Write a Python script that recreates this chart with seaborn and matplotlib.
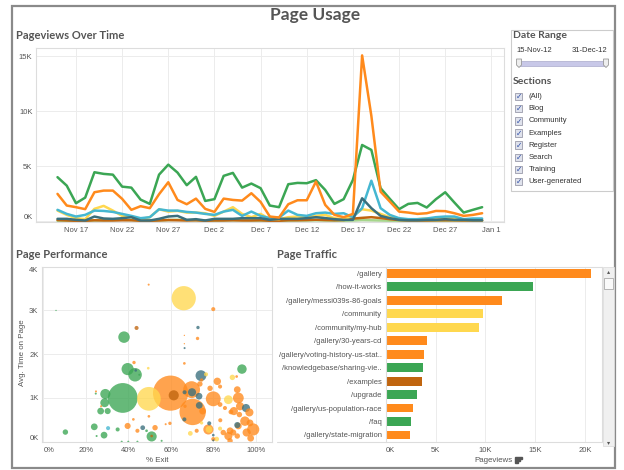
import numpy as np
import pandas as pd
import seaborn as sns
import matplotlib.pyplot as plt
from matplotlib.patches import Rectangle, Polygon
from matplotlib.lines import Line2D
from matplotlib.ticker import FuncFormatter

sns.set_theme(style="white")
plt.rcParams['font.family'] = ['Liberation Sans', 'DejaVu Sans']

W, H = 624, 470

# ---- colours per section
section_colors = {
    "Training": "#3ba654",
    "User-generated": "#ff8a1c",
    "Community": "#ffd84f",
    "Blog": "#45b7d1",
    "Search": "#3a6f7c",
    "Examples": "#c0650f",
    "Register": "#a6d68c",
}
section_names = ["(All)", "Blog", "Community", "Examples", "Register",
                 "Search", "Training", "User-generated"]

# ---- pageviews over time (thousands), Nov 15 .. Dec 31 2012
dates = pd.date_range("2012-11-15", "2012-12-31", freq="D")
views_training = [4.02, 3.25, 1.65, 2.16, 4.47, 4.32, 4.25, 3.16, 3.07, 1.98,
                  1.59, 4.25, 5.16, 4.44, 3.29, 4.05, 1.86, 2.02, 4.14, 4.41,
                  3.07, 3.44, 3.02, 1.44, 1.29, 3.38, 3.50, 3.47, 3.75, 2.86,
                  1.59, 2.02, 3.77, 6.95, 6.50, 3.02, 2.05, 1.11, 1.59, 1.68,
                  1.26, 2.02, 2.65, 1.71, 0.80, 1.05, 1.29]
views_usergen = [2.50, 1.44, 1.29, 1.11, 2.65, 2.80, 2.80, 2.05, 1.05, 1.38,
                 1.20, 2.47, 3.56, 1.95, 1.56, 2.07, 1.14, 0.86, 2.07, 1.95,
                 1.89, 2.56, 1.77, 0.44, 0.35, 1.56, 1.92, 1.92, 3.62, 1.50,
                 0.59, 0.38, 0.68, 15.10, 9.60, 2.70, 1.80, 0.89, 0.80, 0.68,
                 0.74, 0.95, 0.93, 0.74, 0.50, 0.59, 0.74]
views_blog = [1.05, 0.68, 0.44, 0.59, 0.98, 0.95, 0.86, 0.68, 0.50, 0.29,
              0.38, 1.10, 0.98, 0.98, 0.86, 0.80, 0.68, 0.59, 0.89, 1.05,
              0.50, 0.89, 0.50, 0.29, 0.35, 0.98, 0.59, 0.50, 0.74, 0.80,
              0.68, 0.74, 0.38, 1.20, 3.70, 1.20, 0.59, 0.29, 0.20, 0.20,
              0.26, 0.38, 0.44, 0.44, 0.20, 0.26, 0.26]
views_community = [0.98, 0.59, 0.29, 0.20, 1.14, 1.41, 0.98, 0.50, 0.38, 0.20,
                   0.38, 1.10, 0.89, 0.95, 0.80, 0.80, 0.74, 0.50, 0.89, 1.29,
                   0.68, 0.38, 0.68, 0.20, 0.20, 0.38, 0.44, 0.38, 0.50, 0.59,
                   0.29, 0.20, 0.50, 1.10, 0.98, 0.68, 0.38, 0.20, 0.14, 0.20,
                   0.26, 0.26, 0.38, 0.26, 0.14, 0.14, 0.14]
views_search = [0.23, 0.23, 0.14, 0.08, 0.44, 0.26, 0.23, 0.29, 0.38, 0.08,
                0.08, 0.23, 0.44, 0.50, 0.14, 0.20, 0.08, 0.23, 0.23, 0.23,
                0.29, 0.29, 0.29, 0.14, 0.23, 0.23, 0.23, 0.29, 0.38, 0.30,
                0.20, 0.14, 0.14, 2.10, 1.20, 0.50, 0.29, 0.14, 0.10, 0.10,
                0.14, 0.14, 0.20, 0.14, 0.14, 0.10, 0.10]
views_examples = [0.12, 0.08, 0.05, 0.05, 0.10, 0.08, 0.08, 0.10, 0.10, 0.05,
                  0.05, 0.08, 0.12, 0.10, 0.08, 0.10, 0.05, 0.08, 0.08, 0.10,
                  0.08, 0.08, 0.10, 0.05, 0.05, 0.10, 0.10, 0.12, 0.15, 0.12,
                  0.10, 0.12, 0.25, 0.32, 0.38, 0.30, 0.20, 0.12, 0.08, 0.08,
                  0.08, 0.10, 0.10, 0.10, 0.08, 0.08, 0.08]
views_register = [0.05, 0.04, 0.04, 0.05, 0.08, 0.10, 0.12, 0.15, 0.12, 0.08,
                  0.06, 0.08, 0.12, 0.15, 0.12, 0.10, 0.06, 0.05, 0.08, 0.10,
                  0.10, 0.08, 0.06, 0.04, 0.04, 0.06, 0.08, 0.08, 0.10, 0.08,
                  0.06, 0.05, 0.08, 0.12, 0.10, 0.08, 0.06, 0.05, 0.04, 0.04,
                  0.05, 0.05, 0.06, 0.05, 0.04, 0.04, 0.04]
line_order = ["Register", "Examples", "Community", "Blog", "Search",
              "Training", "User-generated"]

# ---- page performance: % exit, avg time on page (K), pageviews, section
perf_exit = [5.9, 37.9, 39.6, 43.1, 37.3, 29.1, 28.8, 26.9, 30.2, 10.3,
             23.9, 28.5, 50.9, 93.4, 34.9, 24.6, 25.0, 36.8, 39.9, 44.2,
             48.5, 55.6, 45.1,
             66.0, 49.6, 87.0, 88.9, 69.1, 77.9, 81.5, 76.5, 49.3, 83.1, 74.4,
             30.4,
             59.8, 70.2, 69.7, 79.9, 79.9, 72.5, 49.5, 66.3, 66.3, 66.3,
             42.6, 81.8, 73.6, 91.2, 91.7, 92.5, 89.6, 96.9, 94.8, 98.7,
             95.6, 91.7, 77.6, 87.8, 84.6, 39.6, 44.2, 52.5, 74.9, 83.1,
             83.2, 88.2, 59.5, 49.6, 79.9, 87.0, 89.3, 97.2, 92.2, 97.5,
             87.8, 91.2, 83.1, 78.4, 85.4, 72.1, 42.3, 66.6, 57.5, 27.1,
             24.7, 90.9, 74.4,
             74.1, 69.9, 73.2, 73.3, 95.3, 91.2, 72.7, 66.4, 66.3, 78.0,
             46.7, 43.4, 66.4, 79.9, 79.9,
             43.8, 61.3, 50.9]
perf_time = [3.00, 2.39, 1.66, 1.53, 1.00, 1.09, 0.89, 0.70, 0.70, 0.22,
             0.34, 0.15, 0.12, 1.66, 0.28, 1.10, 0.13, 0.00, 0.00, 0.00,
             0.25, 0.02, 1.53,
             3.28, 0.98, 0.96, 1.47, 0.19, 0.28, 0.06, 1.54, 1.68, 0.30, 0.43,
             0.31,
             1.11, 0.68, 1.19, 0.98, 3.03, 2.36, 3.59, 2.43, 2.24, 1.79,
             1.81, 1.38, 1.32, 1.19, 1.00, 0.81, 0.70, 0.67, 0.47, 0.28,
             0.21, 0.36, 0.28, 0.25, 0.21, 0.36, 0.25, 0.32, 0.70, 0.85,
             0.49, 0.68, 0.42, 0.58, 0.06, 0.13, 0.21, 0.43, 0.62, 0.08,
             0.02, 0.13, 1.26, 1.22, 0.77, 0.25, 0.51, 0.81, 0.40, 0.81,
             1.15, 1.49, 1.41,
             1.51, 1.13, 1.04, 0.83, 0.77, 0.38, 2.61, 1.13, 0.51, 0.42,
             0.32, 1.63, 2.14, 0.15, 0.03,
             2.60, 1.06, 0.13]
perf_views = [30, 2200, 2470, 3050, 14800, 1710, 1290, 760, 620, 490,
              760, 760, 1710, 1490, 275, 70, 70, 70, 70, 70,
              120, 70, 70,
              9800, 9400, 1290, 490, 375, 760, 375, 275, 120, 275, 190,
              275,
              20600, 11600, 4760, 3690, 275, 190, 70, 30, 30, 120,
              190, 920, 490, 760, 1950, 1100, 1100, 1100, 1490, 2470,
              1100, 760, 1710, 760, 490, 620, 275, 490, 760, 375,
              275, 375, 190, 120, 275, 1100, 620, 760, 490, 760,
              490, 490, 275, 490, 275, 275, 120, 190, 70, 70,
              70, 120, 190,
              1950, 1100, 760, 760, 1100, 620, 190, 275, 275, 275,
              375, 120, 70, 120, 70,
              275, 1710, 120]
perf_section = (["Training"] * 23 + ["Community"] * 11 + ["Blog"]
                + ["User-generated"] * 53 + ["Search"] * 15 + ["Examples"] * 3)

# ---- page traffic
pages = ["/gallery", "/how-it-works", "/gallery/messi039s-86-goals",
         "/community", "/community/my-hub", "/gallery/30-years-cd",
         "/gallery/voting-history-us-stat..", "/knowledgebase/sharing-vie..",
         "/examples", "/upgrade", "/gallery/us-population-race", "/faq",
         "/gallery/state-migration"]
page_views = [20.57, 14.75, 11.64, 9.80, 9.40, 4.18, 3.85, 3.78, 3.65,
              3.11, 2.78, 2.51, 2.41]
page_section = ["User-generated", "Training", "User-generated", "Community",
                "Community", "User-generated", "User-generated", "Training",
                "Examples", "Training", "User-generated", "Training",
                "User-generated"]

TITLE_C = "#555555"
TICK_C = "#555555"
GRID_C = "#ececec"
FRAME_C = "#dddddd"


def box(x0, y0, x1, y1):
    return [x0 / W, 1 - y1 / H, (x1 - x0) / W, (y1 - y0) / H]


def fx(x):
    return x / W


def fy(y):
    return 1 - y / H


def style_axes(ax):
    for s in ax.spines.values():
        s.set_color(FRAME_C)
        s.set_linewidth(0.8)
    ax.tick_params(labelsize=5.5, labelcolor=TICK_C, length=0, pad=2.5)
    ax.set_xlabel("")
    ax.set_ylabel("")


fig = plt.figure(figsize=(W / 100, H / 100), dpi=100)

# dashboard frame and titles
fig.patches.append(Rectangle((fx(12), fy(468)), (615 - 12) / W, (468 - 6) / H,
                             transform=fig.transFigure, fill=False,
                             edgecolor="#8a8a8a", linewidth=1.6))
fig.text(fx(315), fy(15), "Page Usage", family="Lato", weight="bold",
         size=12.5, color=TITLE_C, ha="center", va="center")
fig.text(fx(16), fy(35.7), "Pageviews Over Time", family="Lato",
         weight="bold", size=8, color=TITLE_C, va="center")
fig.text(fx(16), fy(255), "Page Performance", family="Lato",
         weight="bold", size=8, color=TITLE_C, va="center")
fig.text(fx(277), fy(255), "Page Traffic", family="Lato",
         weight="bold", size=8, color=TITLE_C, va="center")

# ---- line chart
line_df = pd.DataFrame({
    "date": dates,
    "Training": views_training,
    "User-generated": views_usergen,
    "Blog": views_blog,
    "Community": views_community,
    "Search": views_search,
    "Examples": views_examples,
    "Register": views_register,
}).melt(id_vars="date", var_name="section", value_name="views")

ax1 = fig.add_axes(box(36, 47.7, 504, 221.7))
sns.lineplot(data=line_df, x="date", y="views", hue="section",
             hue_order=line_order, palette=section_colors, linewidth=1.8,
             legend=False, ax=ax1)
style_axes(ax1)
ax1.set_xlim(dates[0] - pd.Timedelta(days=2.33),
             dates[0] + pd.Timedelta(days=48.37))
ax1.set_ylim(-0.03, 15.8)
major_days = pd.date_range("2012-11-17", "2013-01-01", freq="5D")
ax1.set_xticks(major_days)
ax1.set_xticklabels([d.strftime("%b ") + str(d.day) for d in major_days])
ax1.set_xticks(pd.date_range("2012-11-13", "2013-01-02", freq="D"), minor=True)
ax1.tick_params(axis="x", which="minor", length=1.5, color="#cccccc")
ax1.tick_params(axis="x", which="major", pad=4)
ax1.set_yticks([0, 5, 10, 15])
ax1.yaxis.set_major_formatter(FuncFormatter(lambda v, p: f"{v:.0f}K"))
ax1.grid(True, color=GRID_C, linewidth=0.7)
fig.canvas.draw()
for lab in ax1.get_yticklabels():
    if lab.get_text() == "0K":
        lab.set_va("bottom")

# ---- scatter
perf_df = pd.DataFrame({"exit": perf_exit, "time": perf_time,
                        "views": perf_views, "section": perf_section})
perf_df = perf_df.sort_values("views", ascending=False)
ax2 = fig.add_axes(box(42, 266.7, 271.7, 441.7))
sns.scatterplot(data=perf_df, x="exit", y="time", hue="section",
                palette=section_colors, size="views", sizes=(0, 640),
                size_norm=(0, 20600), alpha=0.78, linewidth=0,
                legend=False, ax=ax2)
style_axes(ax2)
ax2.set_xlim(-0.7, 107.4)
ax2.set_ylim(0, 3.99)
ax2.set_xticks([0, 20, 40, 60, 80, 100])
ax2.set_yticks([0, 1, 2, 3, 4])
ax2.xaxis.set_major_formatter(FuncFormatter(lambda v, p: f"{v:.0f}%"))
ax2.yaxis.set_major_formatter(FuncFormatter(lambda v, p: f"{v:.0f}K"))
ax2.tick_params(axis="x", pad=4)
ax2.grid(True, color=GRID_C, linewidth=0.7)
fig.canvas.draw()
for lab in ax2.get_yticklabels():
    if lab.get_text() == "0K":
        lab.set_va("bottom")
    if lab.get_text() == "4K":
        lab.set_va("top")
for lab in ax2.get_xticklabels():
    if lab.get_text() == "0%":
        lab.set_ha("left")
fig.text(fx(157), fy(460.7), "% Exit", size=5.7, color=TICK_C,
         ha="center", va="center")
fig.text(fx(22.3), fy(353), "Avg. Time on Page", size=5.7, color=TICK_C,
         ha="center", va="center", rotation=90)

# ---- bar chart
bar_df = pd.DataFrame({"page": pages, "views": page_views,
                       "section": page_section})
ax3 = fig.add_axes(box(385.7, 266.7, 601.7, 441.7))
sns.barplot(data=bar_df, y="page", x="views", hue="section",
            palette=section_colors, dodge=False, width=0.66, saturation=1,
            linewidth=0, legend=False, ax=ax3)
style_axes(ax3)
ax3.set_xlim(0, 21.67)
ax3.set_ylim(12.5, -0.5)
ax3.set_xticks([0, 5, 10, 15, 20])
ax3.xaxis.set_major_formatter(FuncFormatter(lambda v, p: f"{v:.0f}K"))
ax3.tick_params(axis="x", pad=4)
ax3.tick_params(axis="y", pad=3)
ax3.grid(True, axis="x", color=GRID_C, linewidth=0.7)
ax3.spines["top"].set_visible(False)
ax3.spines["bottom"].set_visible(False)
fig.canvas.draw()
for lab in ax3.get_xticklabels():
    if lab.get_text() == "0K":
        lab.set_ha("left")
for y in (266.7, 441.7):
    fig.add_artist(Line2D([fx(277), fx(601.7)], [fy(y), fy(y)],
                          color=FRAME_C, linewidth=0.8))
fig.text(fx(493), fy(460.7), "Pageviews", size=5.7, color=TICK_C,
         ha="center", va="center")
for i, w in enumerate([7, 5, 3]):
    fig.patches.append(Rectangle((fx(515), fy(458.5 + i * 2)), w / W, 1.3 / H,
                                 transform=fig.transFigure, color="#555555"))

# scrollbar
fig.patches.append(Rectangle((fx(602.7), fy(446)), 11 / W, (446 - 267) / H,
                             transform=fig.transFigure, facecolor="#f0f0f0",
                             edgecolor="#dddddd", linewidth=0.6))
fig.patches.append(Rectangle((fx(604), fy(289)), 8.5 / W, 11 / H,
                             transform=fig.transFigure, facecolor="#fafafa",
                             edgecolor="#aaaaaa", linewidth=0.6))
fig.text(fx(608.2), fy(272), "▴", size=4.5, color="#555555", ha="center",
         va="center", family="DejaVu Sans")
fig.text(fx(608.2), fy(443), "▾", size=4.5, color="#555555", ha="center",
         va="center", family="DejaVu Sans")

# ---- filter panel
fig.patches.append(Rectangle((fx(510.7), fy(191)), (613 - 510.7) / W,
                             (191 - 30) / H, transform=fig.transFigure,
                             fill=False, edgecolor="#cccccc", linewidth=0.8))
fig.text(fx(512.7), fy(35.7), "Date Range", family="Lato", weight="bold",
         size=7.5, color=TITLE_C, va="center")
fig.text(fx(516.7), fy(50), "15-Nov-12", size=5.5, color="#333333",
         va="center")
fig.text(fx(607.5), fy(50), "31-Dec-12", size=5.5, color="#333333",
         va="center", ha="right")
fig.patches.append(Rectangle((fx(518), fy(65.7)), (606 - 518) / W, 4.7 / H,
                             transform=fig.transFigure, facecolor="#c8c8e8",
                             edgecolor="#aaaacc", linewidth=0.5))
for hx in (516.5, 603.5):
    pts = [(hx, 59), (hx + 5, 59), (hx + 5, 65), (hx + 2.5, 67.5), (hx, 65)]
    fig.patches.append(Polygon([(fx(a), fy(b)) for a, b in pts], closed=True,
                               transform=fig.transFigure, facecolor="#eeeeee",
                               edgecolor="#999999", linewidth=0.6))
fig.text(fx(512.7), fy(81.7), "Sections", family="Lato", weight="bold",
         size=7.5, color=TITLE_C, va="center")
for i, name in enumerate(section_names):
    yy = 96.7 + i * 12.15
    fig.patches.append(Rectangle((fx(515), fy(yy + 3.6)), 7.4 / W, 7.4 / H,
                                 transform=fig.transFigure,
                                 facecolor="#dfe2ec", edgecolor="#9a9aaa",
                                 linewidth=0.6))
    fig.text(fx(518.7), fy(yy), "✓", size=5.5, color="#3050a8", ha="center",
             va="center", family="DejaVu Sans")
    fig.text(fx(528.7), fy(yy), name, size=5.5, color="#333333",
             va="center")

fig.savefig("out.png", dpi=100)
